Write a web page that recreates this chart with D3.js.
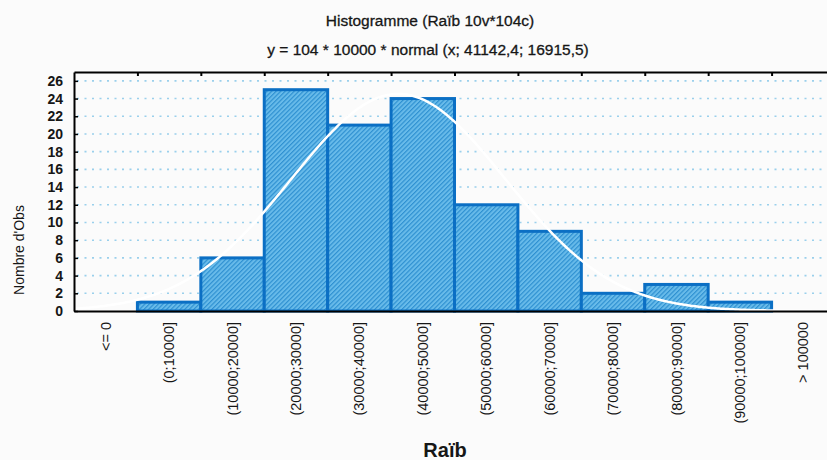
<!DOCTYPE html>
<html>
<head>
<meta charset="utf-8">
<script src="https://cdn.jsdelivr.net/npm/d3@7"></script>
<style>
  body { margin: 0; background: #fbfbfb; }
  svg { display: block; }
</style>
</head>
<body>
<svg id="chart"></svg>
<script>
// données de l'histogramme
const categories = ["<= 0", "(0;10000]", "(10000;20000]", "(20000;30000]", "(30000;40000]",
  "(40000;50000]", "(50000;60000]", "(60000;70000]", "(70000;80000]", "(80000;90000]",
  "(90000;100000]", "> 100000"];
const counts = [0, 1, 6, 25, 21, 24, 12, 9, 2, 3, 1, 0];
const yTicks = [0, 2, 4, 6, 8, 10, 12, 14, 16, 18, 20, 22, 24, 26];
const binEdges = [0, 10000, 20000, 30000, 40000, 50000, 60000, 70000, 80000, 90000, 100000];

// paramètres de la loi normale ajustée (titre)
const fitN = 104;
const fitStep = 10000;
const fitMean = 41142.4;
const fitSd = 16915.5;

const width = 827;
const height = 460;
const plotLeft = 74;
const plotRight = 835;
const plotTop = 72;
const plotBottom = 311;
const textColor = "#161616";
const font = "'Liberation Sans', Arial, sans-serif";

const svg = d3.select("#chart")
  .attr("width", width)
  .attr("height", height)
  .attr("viewBox", `0 0 ${width} ${height}`);

svg.append("rect").attr("width", width).attr("height", height).attr("fill", "#fbfbfb");

const x = d3.scaleBand().domain(categories).range([plotLeft, plotRight]).padding(0);
const xVal = d3.scaleLinear().domain([-fitStep, 11 * fitStep]).range([plotLeft, plotRight]);
const y = d3.scaleLinear().domain([0, 27]).range([plotBottom, plotTop]);

// hachures des barres
const defs = svg.append("defs");
const hatch = defs.append("pattern")
  .attr("id", "hatch")
  .attr("patternUnits", "userSpaceOnUse")
  .attr("width", 3.2)
  .attr("height", 3.2)
  .attr("patternTransform", "rotate(45)");
hatch.append("rect").attr("width", 3.2).attr("height", 3.2).attr("fill", "#68bbea");
hatch.append("line").attr("x1", 0.6).attr("y1", 0).attr("x2", 0.6).attr("y2", 3.2)
  .attr("stroke", "#2a8dd0").attr("stroke-width", 1.1);

defs.append("clipPath").attr("id", "plotClip")
  .append("rect").attr("x", plotLeft).attr("y", plotTop)
  .attr("width", plotRight - plotLeft).attr("height", plotBottom - plotTop);

// grille pointillée
svg.append("g")
  .selectAll("line")
  .data(yTicks.filter((t) => t > 0))
  .join("line")
  .attr("x1", plotLeft + 3)
  .attr("x2", width)
  .attr("y1", (d) => y(d))
  .attr("y2", (d) => y(d))
  .attr("stroke", "#9ad0ec")
  .attr("stroke-width", 1.6)
  .attr("stroke-dasharray", "2,5.5");

// barres
svg.append("g")
  .selectAll("rect")
  .data(categories.map((c, i) => ({ c, v: counts[i] })).filter((d) => d.v > 0))
  .join("rect")
  .attr("x", (d) => x(d.c))
  .attr("y", (d) => y(d.v))
  .attr("width", x.bandwidth())
  .attr("height", (d) => y(0) - y(d.v))
  .attr("fill", "url(#hatch)")
  .attr("stroke", "#0b6fc4")
  .attr("stroke-width", 3);

// courbe normale
const normal = (v) => fitN * fitStep * Math.exp(-0.5 * ((v - fitMean) / fitSd) ** 2) / (fitSd * Math.sqrt(2 * Math.PI));
const curveX = d3.range(-fitStep, 11 * fitStep + 1, 250);
svg.append("path")
  .datum(curveX)
  .attr("clip-path", "url(#plotClip)")
  .attr("d", d3.line().x((d) => xVal(d)).y((d) => y(normal(d))))
  .attr("fill", "none")
  .attr("stroke", "#ffffff")
  .attr("stroke-width", 2.5);

// axe Y
const yAxis = svg.append("g")
  .attr("transform", `translate(${plotLeft},0)`)
  .call(d3.axisLeft(y).tickValues(yTicks).tickSize(-4).tickSizeOuter(0).tickPadding(11));
yAxis.select(".domain").attr("stroke", "#000").attr("stroke-width", 2);
yAxis.selectAll("line").attr("stroke", "#000").attr("stroke-width", 1.5);
yAxis.selectAll("text")
  .style("font-family", font)
  .style("font-size", "14px")
  .style("font-weight", "bold")
  .style("fill", textColor);

// cadre haut
const topAxis = svg.append("g")
  .attr("transform", `translate(0,${plotTop})`)
  .call(d3.axisTop(xVal).tickValues(binEdges).tickSize(-4).tickSizeOuter(0).tickFormat(""));
topAxis.select(".domain").attr("stroke", "#000").attr("stroke-width", 2);
topAxis.selectAll("line").attr("stroke", "#000").attr("stroke-width", 2);

// axe X
const xAxis = svg.append("g")
  .attr("transform", `translate(0,${plotBottom})`)
  .call(d3.axisBottom(x).tickSize(0).tickSizeOuter(0).tickPadding(0));
xAxis.select(".domain").attr("stroke", "#000").attr("stroke-width", 2);
xAxis.selectAll("text")
  .attr("transform", "rotate(-90)")
  .attr("x", -11)
  .attr("y", 0)
  .attr("dy", "0.35em")
  .style("text-anchor", "end")
  .style("font-family", font)
  .style("font-size", "14.5px")
  .style("fill", textColor);

// titres
svg.append("text")
  .attr("x", 430).attr("y", 26)
  .attr("text-anchor", "middle")
  .style("font-family", font).style("font-size", "15.5px")
  .style("fill", textColor).style("stroke", textColor).style("stroke-width", 0.3)
  .text("Histogramme (Raïb 10v*104c)");
svg.append("text")
  .attr("x", 428).attr("y", 55)
  .attr("text-anchor", "middle")
  .style("font-family", font).style("font-size", "15.5px")
  .style("fill", textColor).style("stroke", textColor).style("stroke-width", 0.3)
  .text("y = 104 * 10000 * normal (x; 41142,4; 16915,5)");

svg.append("text")
  .attr("transform", "translate(24,250) rotate(-90)")
  .attr("text-anchor", "middle")
  .style("font-family", font).style("font-size", "14px")
  .style("fill", textColor)
  .text("Nombre d'Obs");

svg.append("text")
  .attr("x", 445).attr("y", 457)
  .attr("text-anchor", "middle")
  .style("font-family", font).style("font-size", "20px").style("font-weight", "bold")
  .style("fill", textColor)
  .text("Raïb");
</script>
</body>
</html>
